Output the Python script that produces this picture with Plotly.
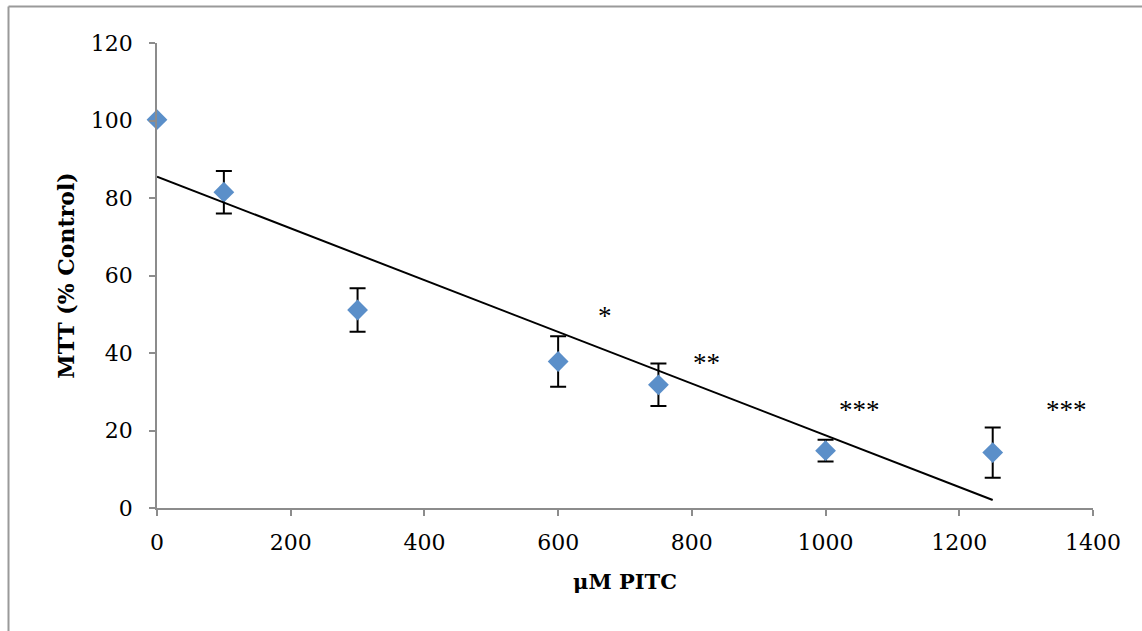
import numpy as np
import plotly.graph_objects as go

# Data
conc = [0, 100, 300, 600, 750, 1000, 1250]
mtt = [100.2, 81.5, 51.1, 37.8, 31.8, 14.8, 14.3]
err = [0, 5.5, 5.6, 6.5, 5.5, 2.8, 6.5]
stars = ["*", "**", "***", "***"]
star_x = [670, 822, 1050, 1360]
star_y = [49.5, 37.5, 25.2, 25.2]
x_ticks = [0, 200, 400, 600, 800, 1000, 1200, 1400]
y_ticks = [0, 20, 40, 60, 80, 100, 120]

slope, intercept = np.polyfit(conc, mtt, 1)
tx = [min(conc), max(conc)]
ty = [slope * v + intercept for v in tx]

FONT = "DejaVu Serif"
W, H = 1142, 631
ml, mr, mt, mb = 157, 49, 43, 123
pw, ph = W - ml - mr, H - mt - mb

fig = go.Figure()
fig.add_trace(go.Scatter(
    x=conc, y=mtt, mode="markers",
    marker=dict(symbol="diamond", size=16, color="#5B8FC9", line=dict(width=0)),
    error_y=dict(type="data", array=err, visible=True, color="black", thickness=2, width=8),
    showlegend=False, cliponaxis=False,
))
fig.add_trace(go.Scatter(
    x=tx, y=ty, mode="lines", line=dict(color="black", width=2),
    showlegend=False, hoverinfo="skip",
))

for s, xx, yy in zip(stars, star_x, star_y):
    fig.add_annotation(x=xx, y=yy, text=s, showarrow=False,
                       font=dict(family="Liberation Serif", size=27, color="black"))

def px_x(p):
    return (p - ml) / pw

def px_y(p):
    return (H - mb - p) / ph

gray = "#9A9A9A"
fig.add_shape(type="line", xref="paper", yref="paper",
              x0=px_x(8.5), x1=px_x(8.5), y0=px_y(W), y1=px_y(6.5),
              line=dict(color=gray, width=2))
fig.add_shape(type="line", xref="paper", yref="paper",
              x0=px_x(8.5), x1=px_x(W + 10), y0=px_y(6.5), y1=px_y(6.5),
              line=dict(color=gray, width=2))

fig.update_layout(
    width=W, height=H,
    margin=dict(l=ml, r=mr, t=mt, b=mb, autoexpand=False),
    plot_bgcolor="white", paper_bgcolor="white",
    font=dict(family=FONT, size=22, color="black"),
    xaxis=dict(
        range=[0, 1400], tickvals=x_ticks, ticks="outside", ticklen=6,
        tickcolor="#8C8C8C", tickwidth=1.5, showline=True, linecolor="#8C8C8C",
        linewidth=1.5, showgrid=False, zeroline=False,
        tickfont=dict(family=FONT, size=22), ticklabelstandoff=8,
        title=dict(text="<b>μM PITC</b>", standoff=20,
                   font=dict(family=FONT, size=21)),
    ),
    yaxis=dict(
        range=[0, 120], tickvals=y_ticks, ticks="outside", ticklen=6,
        tickcolor="#8C8C8C", tickwidth=1.5, showline=True, linecolor="#8C8C8C",
        linewidth=1.5, showgrid=False, zeroline=False,
        tickfont=dict(family=FONT, size=22), ticklabelstandoff=12,
        title=dict(text="<b>MTT (% Control)</b>", standoff=10,
                   font=dict(family=FONT, size=22)),
    ),
)

fig.write_html("out.html", config={"displayModeBar": False},
               post_script="document.body.style.margin='0';document.body.style.overflow='hidden';")
